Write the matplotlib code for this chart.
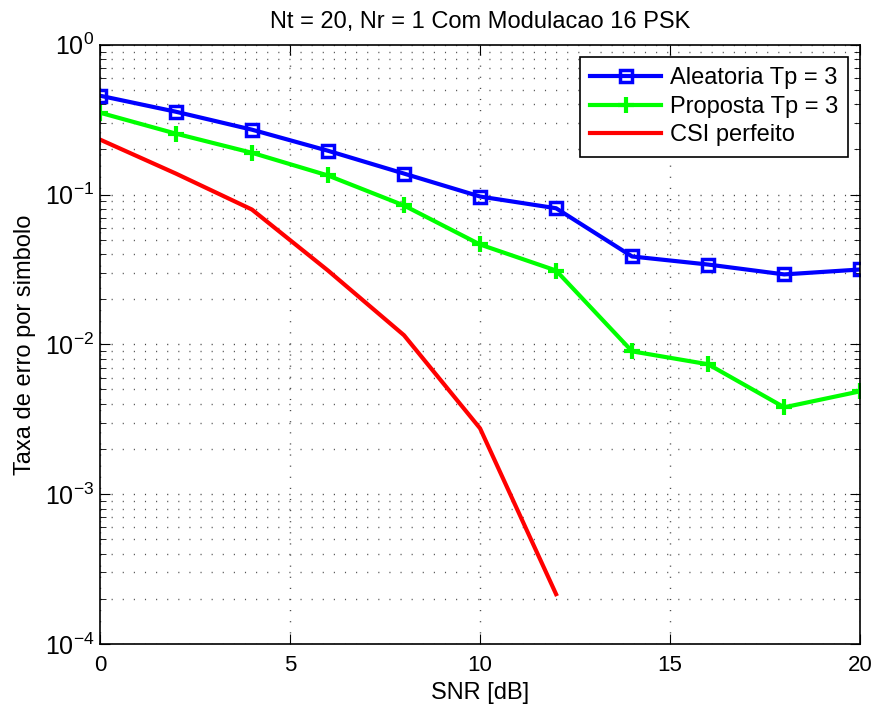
import matplotlib
matplotlib.use("Agg")
import matplotlib.pyplot as plt
from matplotlib.ticker import LogLocator, NullFormatter

plt.rcParams['font.family'] = ['Liberation Sans', 'DejaVu Sans']
plt.rcParams['mathtext.fontset'] = 'custom'
plt.rcParams['mathtext.rm'] = 'Liberation Sans'

# dados
snr = [0, 2, 4, 6, 8, 10, 12, 14, 16, 18, 20]
aleatoria = [0.457, 0.357, 0.271, 0.196, 0.138, 0.097, 0.081, 0.0386, 0.0341, 0.0293, 0.0316]
proposta = [0.352, 0.255, 0.19, 0.134, 0.0845, 0.0464, 0.0311, 0.00898, 0.00736, 0.0038, 0.00486]
snr_csi = [0, 2, 4, 6, 8, 10, 12]
csi = [0.233, 0.138, 0.0794, 0.0311, 0.0115, 0.00275, 0.000215]

fig = plt.figure(figsize=(8.76, 7.10), dpi=100)
ax = fig.add_axes([0.114, 0.093, 0.868, 0.844])

ax.semilogy(snr, aleatoria, color='#0000ff', lw=3, marker='s', ms=8.5,
            mfc='none', mew=2.5, label='Aleatoria Tp = 3')
ax.semilogy(snr, proposta, color='#00ff00', lw=3, marker='+', ms=11,
            mew=3, label='Proposta Tp = 3')
ax.semilogy(snr_csi, csi, color='#ff0000', lw=3, label='CSI perfeito')

ax.set_xlim(0, 20)
ax.set_ylim(1e-4, 1)
ax.set_xticks([0, 5, 10, 15, 20])
ax.yaxis.set_major_locator(LogLocator(base=10, numticks=10))
ax.yaxis.set_minor_locator(LogLocator(base=10, subs=range(2, 10), numticks=100))
ax.yaxis.set_minor_formatter(NullFormatter())

dots = (0, (0.8, 7.2))
ax.grid(True, which='major', ls=dots, color='#444444', lw=1)
ax.grid(True, which='minor', axis='y', ls=dots, color='#555555', lw=1)
ax.tick_params(which='both', direction='in', top=True, right=True)
ax.tick_params(which='major', length=7)
ax.tick_params(which='minor', length=4)
ax.tick_params(axis='x', labelsize=16, pad=8)
ax.tick_params(axis='y', labelsize=18, pad=4)
for s in ax.spines.values():
    s.set_linewidth(1.2)

ax.set_xlabel('SNR [dB]', fontsize=17, labelpad=4)
ax.set_ylabel('Taxa de erro por simbolo', fontsize=17, labelpad=6)
ax.set_title('Nt = 20, Nr = 1 Com Modulacao 16 PSK', fontsize=17, pad=12)

leg = ax.legend(loc='upper right', fontsize=17, fancybox=False, framealpha=1,
                edgecolor='black', handlelength=3.0, handletextpad=0.35,
                borderaxespad=0.5, borderpad=0.45, labelspacing=0.28)
leg.get_frame().set_linewidth(1.2)

fig.savefig('out.png', dpi=100)
